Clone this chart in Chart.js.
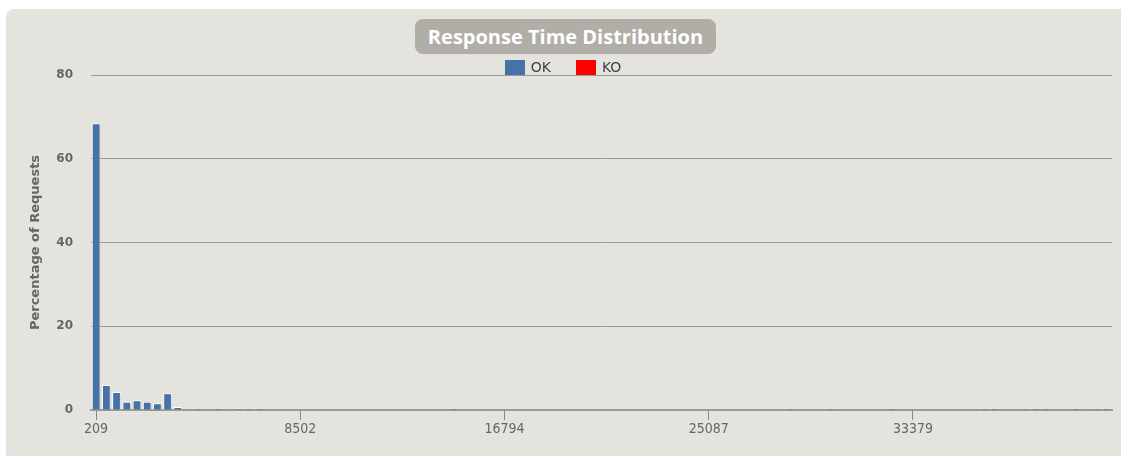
<!DOCTYPE html>
<html>
<head>
<meta charset="utf-8">
<script src="https://cdn.jsdelivr.net/npm/chart.js@4/dist/chart.umd.min.js"></script>
<style>
  body { margin: 0; background: #fff; }
  #panel { position: absolute; left: 6px; top: 9px; width: 1125px; height: 460px; background: #E5E3DE; border-radius: 8px; }
  #graphic { position: absolute; left: 0; top: 0; }
  #title { position: absolute; left: 415px; top: 19px; width: 301px; height: 35px; box-sizing: border-box; padding-top: 4px; line-height: 28px;
    background: #B1AEA7; border-radius: 8px; color: #fff; font: bold 20px "Open Sans", sans-serif; text-align: center; overflow: hidden; }
  #legend { position: absolute; left: 0; width: 1126px; top: 60px; display: flex; justify-content: center; gap: 25px;
    font: 14px "DejaVu Sans", sans-serif; color: #3a3f4a; line-height: 15px; }
  #legend span.item { display: flex; align-items: center; }
  #legend i { display: inline-block; width: 20px; height: 15px; margin-right: 6px; }
</style>
</head>
<body>
<div id="panel"></div>
<canvas id="graphic" width="1121" height="456"></canvas>
<div id="title">Response Time Distribution</div>
<div id="legend"></div>
<script>
const tickLabels = ['209', '8502', '16794', '25087', '33379']
const tickEvery = 20

const okValues = [
  68.5, 6.0, 4.3, 2.0, 2.3, 2.0, 1.6, 4.0, 0.7, 0,
  0.3, 0, 0.3, 0, 0.4, 0.3, 0.3, 0, 0, 0,
  0, 0, 0, 0, 0, 0, 0, 0, 0, 0,
  0, 0, 0, 0, 0, 0.3, 0, 0, 0, 0,
  0, 0, 0, 0, 0, 0, 0, 0, 0, 0,
  0, 0, 0, 0, 0, 0, 0, 0, 0, 0,
  0, 0, 0, 0, 0, 0, 0, 0, 0.3, 0,
  0, 0, 0.3, 0, 0, 0, 0, 0, 0.3, 0,
  0, 0, 0, 0, 0, 0, 0, 0.3, 0.3, 0,
  0, 0.3, 0.3, 0.3, 0, 0, 0.3, 0, 0.3, 0.3
]
const koValues = [
  0, 0, 0, 0, 0, 0, 0, 0, 0, 0,
  0, 0, 0, 0, 0, 0, 0, 0, 0, 0,
  0, 0, 0, 0, 0, 0, 0, 0, 0, 0,
  0, 0, 0, 0, 0, 0, 0, 0, 0, 0,
  0, 0, 0, 0, 0, 0, 0, 0, 0, 0,
  0, 0, 0, 0, 0, 0, 0, 0, 0, 0,
  0, 0, 0, 0, 0, 0, 0, 0, 0, 0,
  0, 0, 0, 0, 0, 0, 0, 0, 0, 0,
  0, 0, 0, 0, 0, 0, 0, 0, 0, 0,
  0, 0, 0, 0, 0, 0, 0, 0, 0, 0
]

// one label per bucket, only every 20th one is shown
const labels = okValues.map((v, i) => i % tickEvery === 0 ? tickLabels[i / tickEvery] : '')

const shadow = {
  id: 'shadow',
  beforeDatasetsDraw(chart) {
    const c = chart.ctx
    c.save()
    c.shadowColor = 'rgba(0,0,0,0.18)'
    c.shadowOffsetX = 1.5
    c.shadowOffsetY = 1
    c.shadowBlur = 2
  },
  afterDatasetsDraw(chart) {
    chart.ctx.restore()
  }
}

const ctx = document.querySelector('#graphic').getContext('2d')
const graphic = new Chart(ctx, {
  type: 'bar',
  data: {
    labels: labels,
    datasets: [
      { label: 'OK', data: okValues, backgroundColor: '#4572A7', borderColor: '#fff', borderWidth: 1 },
      { label: 'KO', data: koValues, backgroundColor: '#FF0000', borderColor: '#fff', borderWidth: 1 }
    ]
  },
  options: {
    responsive: false,
    animation: false,
    layout: { padding: { top: 75, right: 9, left: 0, bottom: 0 } },
    datasets: { bar: { grouped: false, barPercentage: 0.85, categoryPercentage: 1 } },
    plugins: { legend: { display: false }, tooltip: { enabled: false } },
    scales: {
      x: {
        afterFit: (s) => { s.height = 46 },
        afterBuildTicks: (s) => { s.ticks = s.ticks.filter((t) => labels[t.value] !== '') },
        ticks: { autoSkip: false, maxRotation: 0, padding: 1, color: '#666', font: { family: '"DejaVu Sans Condensed", "DejaVu Sans"', size: 14 } },
        grid: { offset: false, drawOnChartArea: false, drawTicks: true, tickLength: 10, color: '#888', lineWidth: 1 },
        border: { display: true, color: '#999', width: 2 }
      },
      y: {
        min: 0,
        max: 80,
        afterFit: (s) => { s.width = 91 },
        ticks: { stepSize: 20, padding: 18, color: '#666', font: { family: '"DejaVu Sans"', size: 12, weight: 'bold' } },
        grid: { drawTicks: false, color: (c) => c.tick.value === 0 ? 'rgba(0,0,0,0)' : '#999', lineWidth: 1 },
        border: { display: false },
        title: { display: true, text: 'Percentage of Requests', color: '#666', padding: { top: 28, bottom: 0 },
          font: { family: '"DejaVu Sans"', size: 13, weight: 'bold' } }
      }
    }
  },
  plugins: [shadow]
})

// legend from the datasets
const legend = document.querySelector('#legend')
graphic.data.datasets.forEach((ds) => {
  const item = document.createElement('span')
  item.className = 'item'
  const box = document.createElement('i')
  box.style.background = ds.backgroundColor
  item.appendChild(box)
  item.appendChild(document.createTextNode(ds.label))
  legend.appendChild(item)
})
</script>
</body>
</html>
